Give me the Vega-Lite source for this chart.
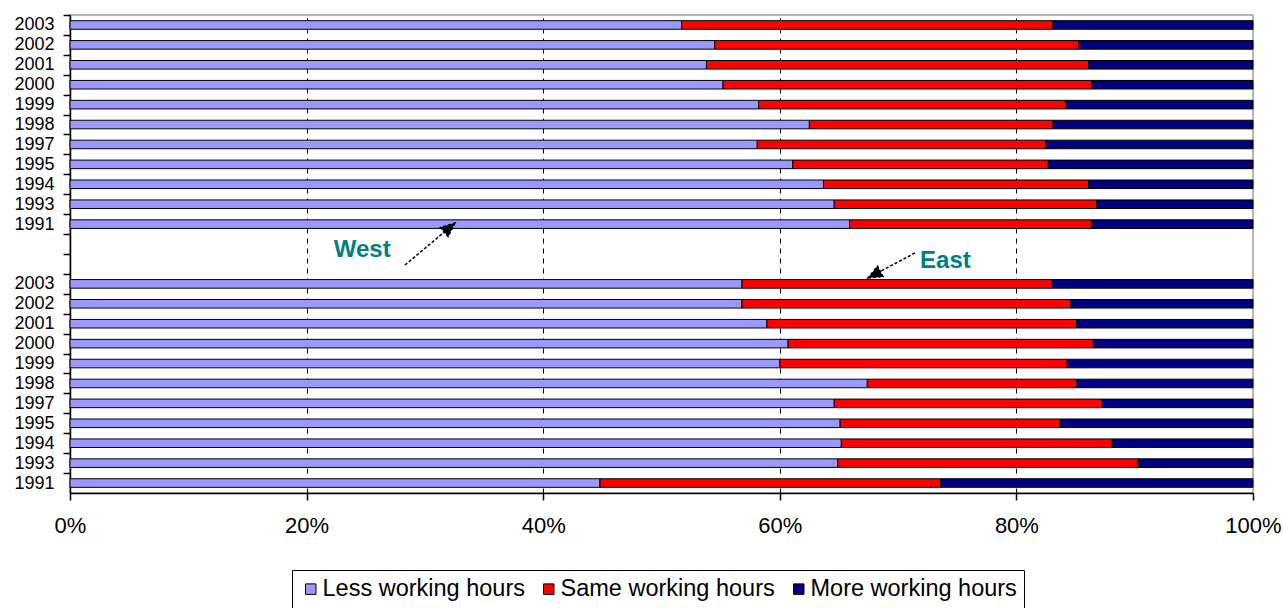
{
  "$schema": "https://vega.github.io/schema/vega-lite/v6.json",
  "width": 1183,
  "height": 478,
  "autosize": {"type": "none"},
  "padding": {"left": 70, "top": 15, "right": 30, "bottom": 115},
  "background": "white",
  "config": {
    "view": {"stroke": "#a0a0a0", "strokeWidth": 1.5},
    "font": "Liberation Sans",
    "axis": {"labelColor": "black", "domainColor": "black", "tickColor": "black", "labelFont": "Liberation Sans", "domainWidth": 1.5, "tickWidth": 1.5}
  },
  "encoding": {
    "y": {
      "field": "row",
      "type": "nominal",
      "scale": {
        "domain": ["W2003", "W2002", "W2001", "W2000", "W1999", "W1998", "W1997", "W1995", "W1994", "W1993", "W1991", "gap1", "gap2",
                   "E2003", "E2002", "E2001", "E2000", "E1999", "E1998", "E1997", "E1995", "E1994", "E1993", "E1991"],
        "paddingInner": 0.57,
        "paddingOuter": 0.285
      },
      "axis": {
        "title": null,
        "labelExpr": "indexof(datum.value, 'gap') == 0 ? '' : slice(datum.value, 1)",
        "tickSize": 7,
        "tickOffset": -9.96,
        "labelOffset": 9.96,
        "labelFontSize": 18,
        "labelPadding": 9
      }
    }
  },
  "layer": [
    {
      "data": {
        "values": [
          {"row": "W2003", "answer": "Less working hours", "share": 51.7}, {"row": "W2003", "answer": "Same working hours", "share": 31.4}, {"row": "W2003", "answer": "More working hours", "share": 16.9},
          {"row": "W2002", "answer": "Less working hours", "share": 54.5}, {"row": "W2002", "answer": "Same working hours", "share": 30.8}, {"row": "W2002", "answer": "More working hours", "share": 14.7},
          {"row": "W2001", "answer": "Less working hours", "share": 53.8}, {"row": "W2001", "answer": "Same working hours", "share": 32.3}, {"row": "W2001", "answer": "More working hours", "share": 13.9},
          {"row": "W2000", "answer": "Less working hours", "share": 55.2}, {"row": "W2000", "answer": "Same working hours", "share": 31.2}, {"row": "W2000", "answer": "More working hours", "share": 13.6},
          {"row": "W1999", "answer": "Less working hours", "share": 58.2}, {"row": "W1999", "answer": "Same working hours", "share": 26.0}, {"row": "W1999", "answer": "More working hours", "share": 15.8},
          {"row": "W1998", "answer": "Less working hours", "share": 62.5}, {"row": "W1998", "answer": "Same working hours", "share": 20.6}, {"row": "W1998", "answer": "More working hours", "share": 16.9},
          {"row": "W1997", "answer": "Less working hours", "share": 58.1}, {"row": "W1997", "answer": "Same working hours", "share": 24.4}, {"row": "W1997", "answer": "More working hours", "share": 17.5},
          {"row": "W1995", "answer": "Less working hours", "share": 61.1}, {"row": "W1995", "answer": "Same working hours", "share": 21.6}, {"row": "W1995", "answer": "More working hours", "share": 17.3},
          {"row": "W1994", "answer": "Less working hours", "share": 63.7}, {"row": "W1994", "answer": "Same working hours", "share": 22.4}, {"row": "W1994", "answer": "More working hours", "share": 13.9},
          {"row": "W1993", "answer": "Less working hours", "share": 64.6}, {"row": "W1993", "answer": "Same working hours", "share": 22.2}, {"row": "W1993", "answer": "More working hours", "share": 13.2},
          {"row": "W1991", "answer": "Less working hours", "share": 65.9}, {"row": "W1991", "answer": "Same working hours", "share": 20.5}, {"row": "W1991", "answer": "More working hours", "share": 13.6},
          {"row": "E2003", "answer": "Less working hours", "share": 56.8}, {"row": "E2003", "answer": "Same working hours", "share": 26.2}, {"row": "E2003", "answer": "More working hours", "share": 17.0},
          {"row": "E2002", "answer": "Less working hours", "share": 56.8}, {"row": "E2002", "answer": "Same working hours", "share": 27.8}, {"row": "E2002", "answer": "More working hours", "share": 15.4},
          {"row": "E2001", "answer": "Less working hours", "share": 58.9}, {"row": "E2001", "answer": "Same working hours", "share": 26.2}, {"row": "E2001", "answer": "More working hours", "share": 14.9},
          {"row": "E2000", "answer": "Less working hours", "share": 60.7}, {"row": "E2000", "answer": "Same working hours", "share": 25.8}, {"row": "E2000", "answer": "More working hours", "share": 13.5},
          {"row": "E1999", "answer": "Less working hours", "share": 60.0}, {"row": "E1999", "answer": "Same working hours", "share": 24.3}, {"row": "E1999", "answer": "More working hours", "share": 15.7},
          {"row": "E1998", "answer": "Less working hours", "share": 67.4}, {"row": "E1998", "answer": "Same working hours", "share": 17.7}, {"row": "E1998", "answer": "More working hours", "share": 14.9},
          {"row": "E1997", "answer": "Less working hours", "share": 64.6}, {"row": "E1997", "answer": "Same working hours", "share": 22.6}, {"row": "E1997", "answer": "More working hours", "share": 12.8},
          {"row": "E1995", "answer": "Less working hours", "share": 65.1}, {"row": "E1995", "answer": "Same working hours", "share": 18.6}, {"row": "E1995", "answer": "More working hours", "share": 16.3},
          {"row": "E1994", "answer": "Less working hours", "share": 65.2}, {"row": "E1994", "answer": "Same working hours", "share": 22.9}, {"row": "E1994", "answer": "More working hours", "share": 11.9},
          {"row": "E1993", "answer": "Less working hours", "share": 64.9}, {"row": "E1993", "answer": "Same working hours", "share": 25.4}, {"row": "E1993", "answer": "More working hours", "share": 9.7},
          {"row": "E1991", "answer": "Less working hours", "share": 44.8}, {"row": "E1991", "answer": "Same working hours", "share": 28.8}, {"row": "E1991", "answer": "More working hours", "share": 26.4}
        ]
      },
      "transform": [
        {"calculate": "indexof(['Less working hours', 'Same working hours', 'More working hours'], datum.answer)", "as": "stackOrder"}
      ],
      "mark": {"type": "bar", "stroke": "black", "strokeWidth": 1},
      "encoding": {
        "x": {
          "field": "share",
          "type": "quantitative",
          "stack": "normalize",
          "scale": {"domain": [0, 1], "nice": false},
          "axis": {
            "title": null,
            "format": ".0%",
            "values": [0, 0.2, 0.4, 0.6, 0.8, 1],
            "grid": true,
            "gridDash": [5, 5],
            "gridColor": "black",
            "gridOpacity": {"condition": {"test": "datum.value == 0 || datum.value == 1", "value": 0}, "value": 1},
            "tickSize": 7,
            "labelFlush": false,
            "labelFontSize": 22,
            "labelPadding": 15
          }
        },
        "order": {"field": "stackOrder", "type": "quantitative", "sort": "ascending"},
        "color": {
          "field": "answer",
          "type": "nominal",
          "sort": ["Less working hours", "Same working hours", "More working hours"],
          "scale": {
            "domain": ["Less working hours", "Same working hours", "More working hours"],
            "range": ["#9999FF", "#FF0000", "#000080"]
          },
          "legend": {
            "title": null,
            "orient": "none",
            "legendX": 222,
            "legendY": 555,
            "direction": "horizontal",
            "strokeColor": "black",
            "padding": 7,
            "labelFontSize": 23.5,
            "labelLimit": 400,
            "labelColor": "black",
            "symbolType": "square",
            "symbolSize": 110,
            "symbolStrokeColor": "black",
            "symbolStrokeWidth": 1,
            "symbolOpacity": 1,
            "columnPadding": 12,
            "labelOffset": 0
          }
        }
      }
    },
    {
      "data": {"values": [{"ax": 0.3043, "row": "gap1"}]},
      "mark": {"type": "point", "shape": "M-1,0.84L0.571,-0.48M1,-0.84L0.725,-0.296L0.417,-0.664Z", "size": 2500, "filled": true, "fill": "black", "stroke": "black", "strokeWidth": 1.5, "strokeDash": [3, 2], "opacity": 1},
      "encoding": {
        "x": {"field": "ax", "type": "quantitative", "title": null}
      }
    },
    {
      "data": {"values": [{"ax": 0.6944, "row": "gap2"}]},
      "mark": {"type": "point", "shape": "M1,-0.532L-0.474,0.252M-1,0.532L-0.354,0.477L-0.594,0.027Z", "size": 2209, "filled": true, "fill": "black", "stroke": "black", "strokeWidth": 1.5, "strokeDash": [3, 2], "opacity": 1, "yOffset": 1.5},
      "encoding": {
        "x": {"field": "ax", "type": "quantitative", "title": null}
      }
    },
    {
      "data": {"values": [{"ax": 0.247, "row": "gap1", "label": "West"}]},
      "mark": {"type": "text", "fontWeight": "bold", "fontSize": 24, "color": "#008080", "align": "center", "baseline": "middle", "yOffset": 6},
      "encoding": {
        "x": {"field": "ax", "type": "quantitative", "title": null},
        "text": {"field": "label"}
      }
    },
    {
      "data": {"values": [{"ax": 0.74, "row": "gap2", "label": "East"}]},
      "mark": {"type": "text", "fontWeight": "bold", "fontSize": 24, "color": "#008080", "align": "center", "baseline": "middle", "yOffset": -3},
      "encoding": {
        "x": {"field": "ax", "type": "quantitative", "title": null},
        "text": {"field": "label"}
      }
    }
  ]
}
